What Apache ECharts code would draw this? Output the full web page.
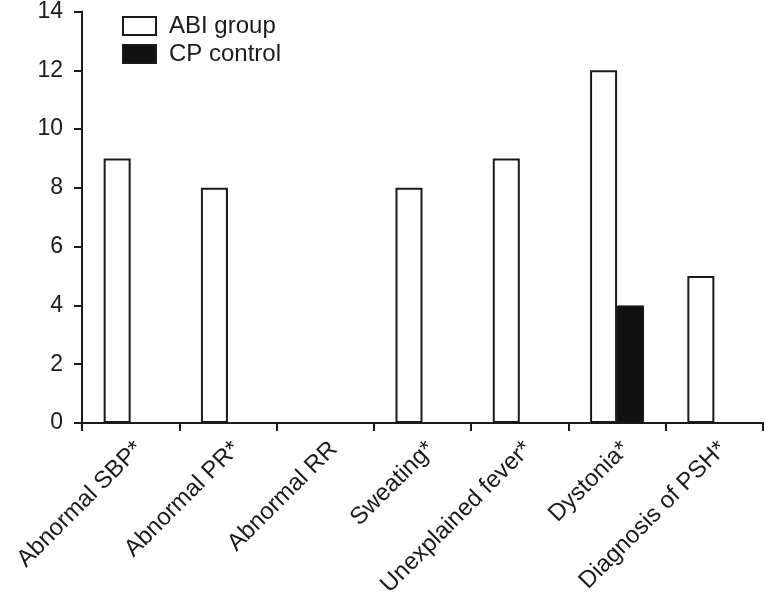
<!DOCTYPE html>
<html>
<head>
<meta charset="utf-8">
<script src="https://cdn.jsdelivr.net/npm/echarts@6/dist/echarts.min.js"></script>
<style>
html,body{margin:0;padding:0;background:#fff;}
#chart{width:765px;height:603px;}
</style>
</head>
<body>
<div id="chart"></div>
<script>
const categories = ["Abnormal SBP*", "Abnormal PR*", "Abnormal RR", "Sweating*", "Unexplained fever*", "Dystonia*", "Diagnosis of PSH*"];
const abiGroup = [9, 8, 0, 8, 9, 12, 5];
const cpControl = [0, 0, 0, 0, 0, 4, 0];
const yTicks = { min: 0, max: 14, interval: 2 };

const ink = '#1a1a1a';
const font = 'Liberation Sans, Arial, Helvetica, sans-serif';
const chart = echarts.init(document.getElementById('chart'), null, { renderer: 'canvas' });
chart.setOption({
  animation: false,
  backgroundColor: '#ffffff',
  textStyle: { fontFamily: font, color: ink },
  grid: { left: 82, right: 2, top: 11, bottom: 180, containLabel: false },
  legend: {
    orient: 'vertical',
    left: 117, top: 9,
    icon: 'rect',
    itemWidth: 33, itemHeight: 18, itemGap: 4,
    textStyle: { fontFamily: font, fontSize: 24, color: ink, padding: [0, 0, 0, 8] },
    data: ['ABI group', 'CP control']
  },
  xAxis: {
    type: 'category',
    data: categories,
    axisLine: { lineStyle: { color: ink, width: 2 } },
    axisTick: { show: true, alignWithLabel: false, length: 8, lineStyle: { color: ink, width: 2 } },
    axisLabel: { rotate: 45, interval: 0, margin: 14, verticalAlign: 'top', fontSize: 24, fontFamily: font, color: ink }
  },
  yAxis: {
    type: 'value',
    min: yTicks.min, max: yTicks.max, interval: yTicks.interval,
    splitLine: { show: false },
    axisLine: { show: true, lineStyle: { color: ink, width: 2 } },
    axisTick: { show: true, length: 8, lineStyle: { color: ink, width: 2 } },
    axisLabel: { margin: 19, fontSize: 23, fontFamily: font, color: ink }
  },
  series: [
    {
      name: 'ABI group', type: 'bar', data: abiGroup,
      barWidth: 27, barGap: '0%',
      itemStyle: { color: '#ffffff', borderColor: ink, borderWidth: 2 }
    },
    {
      name: 'CP control', type: 'bar', data: cpControl,
      barWidth: 27, barGap: '0%',
      itemStyle: { color: '#111111', borderColor: ink, borderWidth: 1 }
    }
  ]
});
</script>
</body>
</html>
